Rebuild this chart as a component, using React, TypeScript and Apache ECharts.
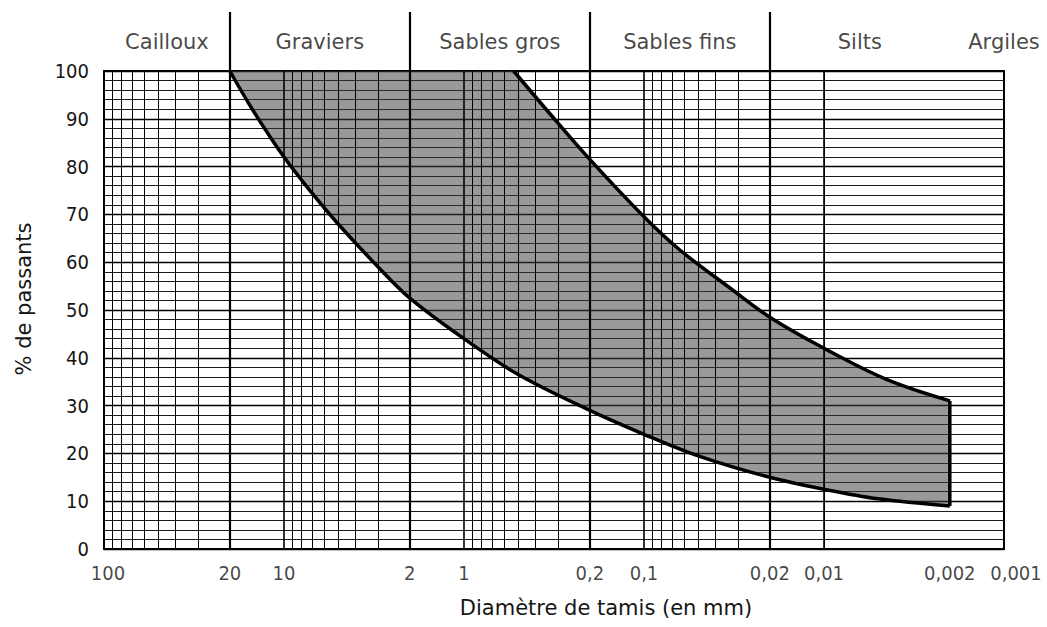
import React, { useEffect, useRef } from 'react';
import * as echarts from 'echarts';

// Zones (header bands) and their limits in mm
const zoneNames = ['Cailloux', 'Graviers', 'Sables gros', 'Sables fins', 'Silts', 'Argiles'];
const zoneEdges = [100, 20, 2, 0.2, 0.02, 0.002, 0.001];

// X tick labels
const xTickValues = [100, 20, 10, 2, 1, 0.2, 0.1, 0.02, 0.01, 0.002, 0.001];
const xTickLabels = ['100', '20', '10', '2', '1', '0,2', '0,1', '0,02', '0,01', '0,002', '0,001'];

// Envelope curves: [diameter mm, % passing]
const lowerCurve: [number, number][] = [
  [20, 100], [15, 92], [10, 82], [7, 74.5], [5, 68], [3, 59], [2, 52.5], [1, 44],
  [0.5, 36.5], [0.2, 29], [0.1, 24], [0.05, 19.5], [0.02, 15], [0.01, 12.5], [0.005, 10.5], [0.002, 9],
];
const upperCurve: [number, number][] = [
  [0.53, 100], [0.35, 92], [0.2, 81.5], [0.1, 69.5], [0.063, 62.5], [0.033, 54.5],
  [0.02, 48.5], [0.01, 42], [0.0045, 35.5], [0.002, 31],
];

const decadeStarts = [0.001, 0.01, 0.1, 1, 10];
const mantissas = [1, 2, 3, 4, 5, 6, 7, 8, 9];

const WORD_FONT = "'DejaVu Sans', sans-serif";
const NUM_FONT = "'DejaVu Sans Condensed', 'DejaVu Sans', sans-serif";
const INK = '#151515';

export default function App() {
  const ref = useRef<HTMLDivElement>(null);

  useEffect(() => {
    if (!ref.current) return;
    const chart = echarts.init(ref.current, null, { renderer: 'svg' });

    const vLines: number[] = [];
    decadeStarts.forEach((d) => mantissas.forEach((m) => vLines.push(m * d)));
    vLines.push(100);
    const inner = zoneEdges.slice(1, zoneEdges.length - 1);
    const isClose = (a: number, b: number) => Math.abs(Math.log10(a) - Math.log10(b)) < 1e-6;
    const isDecade = (v: number) => Math.abs(Math.log10(v) - Math.round(Math.log10(v))) < 1e-6;

    const gridMarks = vLines.map((v) => {
      let w = 1;
      if (inner.some((b) => isClose(b, v))) w = 2.2;
      else if (isDecade(v)) w = 1.6;
      return { xAxis: v, lineStyle: { color: '#000', width: w, type: 'solid' } };
    });

    const headerPos = zoneNames.map((n, i) =>
      i < zoneNames.length - 1
        ? [Math.sqrt(zoneEdges[i] * zoneEdges[i + 1]), 0.5, n]
        : [zoneEdges[zoneEdges.length - 1], 0.5, n]
    );

    const option: any = {
      animation: false,
      backgroundColor: '#fff',
      grid: [
        { left: 104, right: 43, top: 71, bottom: 78, show: true, borderColor: '#000', borderWidth: 2, backgroundColor: 'transparent' },
        { left: 104, right: 43, top: 12, height: 59, show: false },
      ],
      xAxis: [
        {
          gridIndex: 0,
          type: 'log',
          logBase: 10,
          min: 0.001,
          max: 100,
          inverse: true,
          axisLine: { show: true, lineStyle: { color: '#000', width: 2 } },
          axisTick: { show: false },
          axisLabel: { show: false },
          splitLine: { show: false },
          name: 'Diamètre de tamis (en mm)',
          nameLocation: 'middle',
          nameGap: 48,
          nameTextStyle: { fontFamily: WORD_FONT, fontSize: 21, color: INK, padding: [0, 0, 0, 104] },
        },
        {
          gridIndex: 1,
          type: 'log',
          logBase: 10,
          min: 0.001,
          max: 100,
          inverse: true,
          show: false,
        },
      ],
      yAxis: [
        {
          gridIndex: 0,
          type: 'value',
          min: 0,
          max: 100,
          interval: 10,
          axisLine: { show: true, lineStyle: { color: '#000', width: 2 } },
          axisTick: { show: false },
          axisLabel: { fontFamily: NUM_FONT, fontSize: 20, color: INK, margin: 15 },
          splitLine: { show: true, lineStyle: { color: '#000', width: 1.4 } },
          minorTick: { show: false, splitNumber: 5 },
          minorSplitLine: { show: true, lineStyle: { color: '#1a1a1a', width: 1 } },
          name: '% de passants',
          nameLocation: 'middle',
          nameGap: 70,
          nameRotate: 90,
          nameTextStyle: { fontFamily: WORD_FONT, fontSize: 21, color: INK, padding: [0, 0, 0, 22] },
        },
        { gridIndex: 1, type: 'value', min: 0, max: 1, show: false },
      ],
      series: [
        {
          type: 'line',
          xAxisIndex: 0,
          yAxisIndex: 0,
          data: lowerCurve,
          symbol: 'none',
          lineStyle: { opacity: 0 },
          silent: true,
          z: 1,
          markLine: { silent: true, symbol: ['none', 'none'], label: { show: false }, data: gridMarks },
        },
        {
          type: 'line',
          xAxisIndex: 1,
          yAxisIndex: 1,
          data: [[1, 0.5]],
          symbol: 'none',
          lineStyle: { opacity: 0 },
          silent: true,
          markLine: {
            silent: true,
            symbol: ['none', 'none'],
            label: { show: false },
            data: inner.map((v) => ({ xAxis: v, lineStyle: { color: '#000', width: 2.2, type: 'solid' } })),
          },
        },
        {
          type: 'scatter',
          xAxisIndex: 1,
          yAxisIndex: 1,
          data: headerPos,
          symbolSize: 0,
          silent: true,
          label: {
            show: true,
            position: 'inside',
            formatter: (p: any) => p.data[2],
            fontFamily: WORD_FONT,
            fontSize: 21,
            color: INK,
          },
        },
        {
          type: 'scatter',
          xAxisIndex: 0,
          yAxisIndex: 0,
          data: xTickValues.map((v, i) => ({
            value: [v, 0, xTickLabels[i]],
            label: i === xTickValues.length - 1 ? { offset: [12, 0] } : i === 0 ? { offset: [4, 0] } : undefined,
          })),
          symbolSize: 0,
          silent: true,
          label: {
            show: true,
            position: 'bottom',
            distance: 14,
            formatter: (p: any) => p.value[2],
            fontFamily: NUM_FONT,
            fontSize: 20,
            color: INK,
          },
        },
        {
          type: 'custom',
          xAxisIndex: 0,
          yAxisIndex: 0,
          data: [[1, 50]],
          silent: true,
          z: 3,
          renderItem: (params: any, api: any) => {
            const low = lowerCurve.map((p) => api.coord(p));
            const up = upperCurve.map((p) => api.coord(p));
            const poly = [...low, ...up.slice().reverse()];
            const lL = low[low.length - 1];
            const uL = up[up.length - 1];
            return {
              type: 'group',
              children: [
                { type: 'polygon', shape: { points: poly }, style: { fill: 'rgba(60,60,60,0.52)', stroke: 'none' } },
                { type: 'polyline', shape: { points: low, smooth: 0.35 }, style: { stroke: '#000', lineWidth: 3.5, fill: 'none' } },
                { type: 'polyline', shape: { points: up, smooth: 0.35 }, style: { stroke: '#000', lineWidth: 3.5, fill: 'none' } },
                { type: 'line', shape: { x1: lL[0], y1: lL[1], x2: uL[0], y2: uL[1] }, style: { stroke: '#000', lineWidth: 3.5 } },
              ],
            };
          },
        },
      ],
    };

    chart.setOption(option);
    return () => chart.dispose();
  }, []);

  return <div ref={ref} style={{ position: 'fixed', left: 0, top: 0, width: 1047, height: 627 }} />;
}
